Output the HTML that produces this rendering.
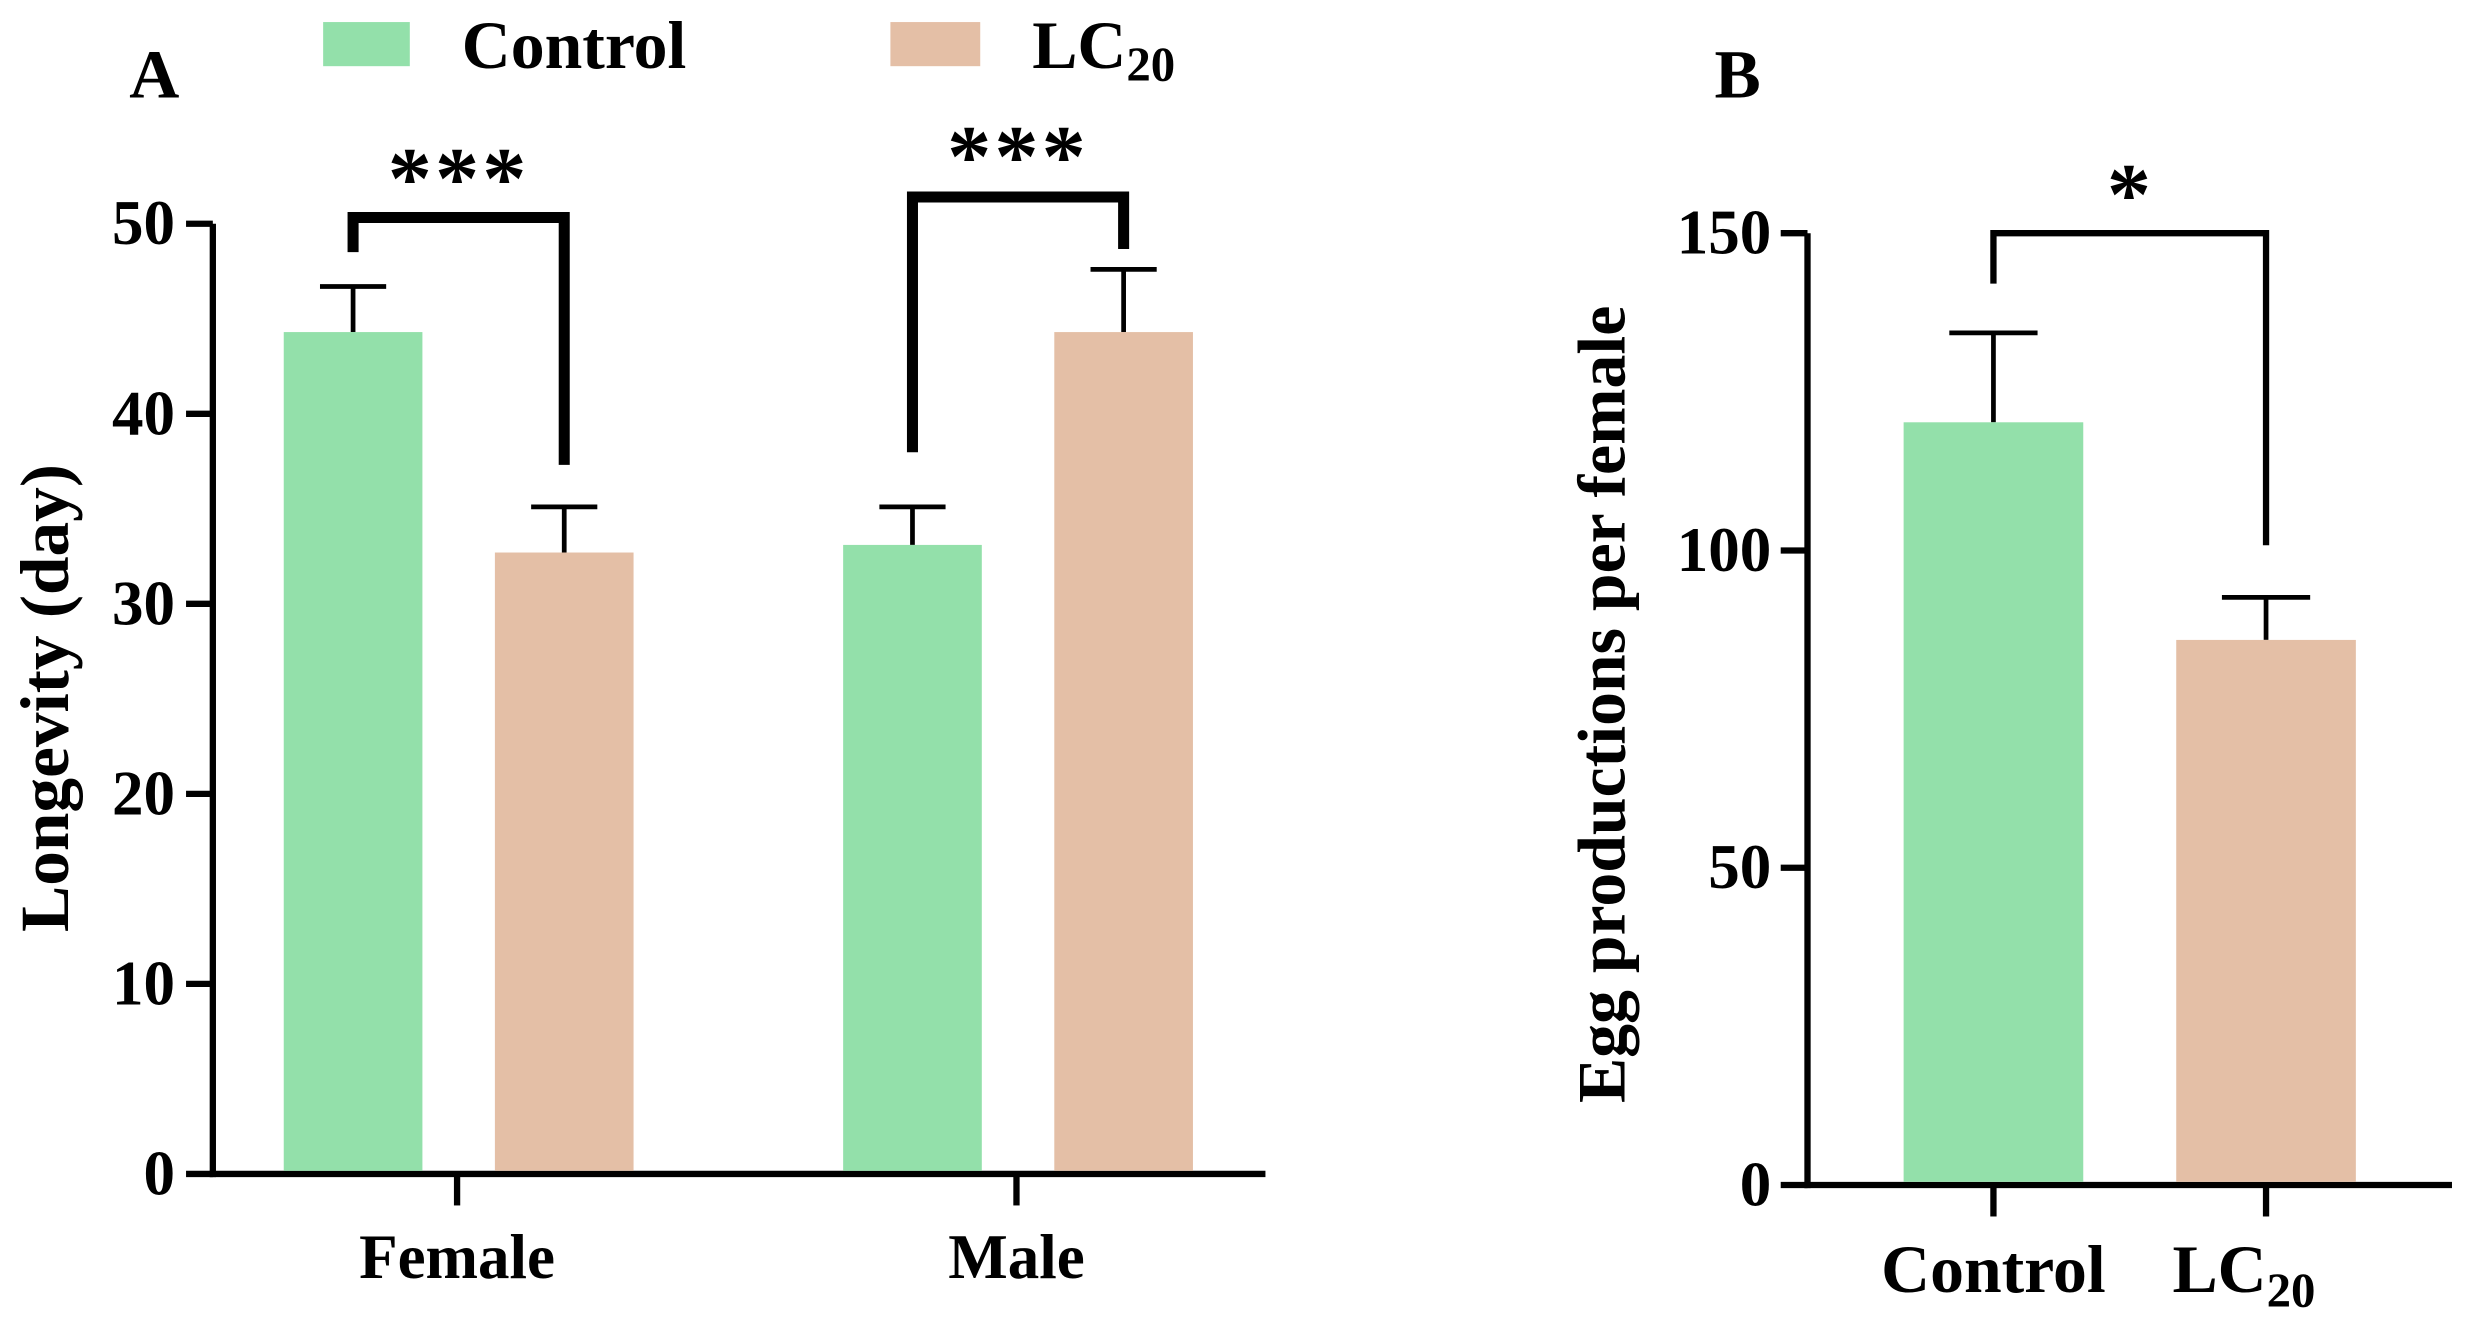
<!DOCTYPE html>
<html><head><meta charset="utf-8"><style>
html,body{margin:0;padding:0;background:#fff}
svg{display:block}
text{font-family:"Liberation Serif",serif;font-weight:bold;fill:#000}
</style></head><body>
<svg id="c" width="2471" height="1326" viewBox="0 0 1568 841.5" xmlns="http://www.w3.org/2000/svg"></svg>
<script>
const groupsA = ["Female","Male"];
const controlA = [44.3, 33.1];
const controlErrA = [2.4, 2.0];
const lc20A = [32.7, 44.3];
const lc20ErrA = [2.4, 3.3];
const ticksA = [0,10,20,30,40,50];
const groupsB = ["Control","LC20"];
const valuesB = [120.2, 85.9];
const errB = [14.1, 6.7];
const ticksB = [0,50,100,150];

const NS="http://www.w3.org/2000/svg";
const svg=document.getElementById('c');
function el(t,a,txt){const e=document.createElementNS(NS,t);for(const k in a)e.setAttribute(k,a[k]);if(txt!==undefined)e.textContent=txt;svg.appendChild(e);return e;}
const G="#93e0aa",T="#e4bfa6";

const yA=v=>745-v*(745-142)/50;
let e;
e=el('line',{x1:135,y1:142,x2:135,y2:747,stroke:'#000','stroke-width':4});


e=el('line',{x1:133,y1:745,x2:803,y2:745,stroke:'#000','stroke-width':4});


ticksA.forEach(t=>{
 e=el('line',{x1:118,y1:yA(t),x2:135,y2:yA(t),stroke:'#000','stroke-width':4});
 
 
 e=el('text',{x:111,y:yA(t)+13,'font-size':40,'text-anchor':'end'},t);
 
 
});
const centersA=[290,645];
groupsA.forEach((g,i)=>{
 const cx=centersA[i];
 e=el('line',{x1:cx,y1:745,x2:cx,y2:765,stroke:'#000','stroke-width':4});
 
 
 e=el('text',{x:cx,y:811,'font-size':40,'text-anchor':'middle'},g);
 
 
 [[controlA,controlErrA,G,cx-66],[lc20A,lc20ErrA,T,cx+68]].forEach(([vals,errs,col,bc],j)=>{
  const v=vals[i],top=yA(v),et=yA(v+errs[i]);
  e=el('line',{x1:bc,y1:top,x2:bc,y2:et,stroke:'#000','stroke-width':3});
  
  
  e=el('line',{x1:bc-21,y1:et,x2:bc+21,y2:et,stroke:'#000','stroke-width':3});
  
  
  e=el('rect',{x:bc-44,y:top,width:88,height:743-top,fill:col});
  
  
 });
});
function bracket(x1,y1,x2,y2,yt,w){
 e=el('polyline',{points:`${x1},${y1} ${x1},${yt} ${x2},${yt} ${x2},${y2}`,fill:'none',stroke:'#000','stroke-width':w});
 
 
}
bracket(224,160,358,295,138,7);
bracket(579,287,713,158,125,7);
e=el('text',{x:291,y:132,'font-size':56,'text-anchor':'middle','letter-spacing':2},'***');


e=el('text',{x:646,y:118,'font-size':56,'text-anchor':'middle','letter-spacing':2},'***');


e=el('text',{x:0,y:0,'font-size':44,'text-anchor':'middle',transform:'translate(43,443) rotate(-90)'},'Longevity (day)');


e=el('text',{x:82,y:62,'font-size':44},'A');



e=el('rect',{x:205,y:14,width:55,height:28,fill:G});


e=el('text',{x:293,y:43,'font-size':43},'Control');


e=el('rect',{x:565,y:14,width:57,height:28,fill:T});


e=el('text',{x:655,y:43,'font-size':43},'LC');


e.appendChild(Object.assign(document.createElementNS(NS,'tspan'),{textContent:'20'}));
e.lastChild.setAttribute('font-size',31);e.lastChild.setAttribute('dy',8);

const yB=v=>752-v*(752-148)/150;
e=el('line',{x1:1147,y1:148,x2:1147,y2:754,stroke:'#000','stroke-width':4});


e=el('line',{x1:1145,y1:752,x2:1556,y2:752,stroke:'#000','stroke-width':4});


ticksB.forEach(t=>{
 e=el('line',{x1:1130,y1:yB(t),x2:1147,y2:yB(t),stroke:'#000','stroke-width':4});
 
 
 e=el('text',{x:1124,y:yB(t)+13,'font-size':40,'text-anchor':'end'},t);
 
 
});
const centersB=[1265,1438];
groupsB.forEach((g,i)=>{
 const cx=centersB[i],v=valuesB[i],top=yB(v),et=yB(v+errB[i]);
 e=el('line',{x1:cx,y1:752,x2:cx,y2:772,stroke:'#000','stroke-width':4});
 
 
 e=el('line',{x1:cx,y1:top,x2:cx,y2:et,stroke:'#000','stroke-width':3});
 
 
 e=el('line',{x1:cx-28,y1:et,x2:cx+28,y2:et,stroke:'#000','stroke-width':3});
 
 
 e=el('rect',{x:cx-57,y:top,width:114,height:750-top,fill:i?T:G});
 
 
 e=el('text',{x:cx,y:820,'font-size':43,'text-anchor':'middle'},g==='LC20'?'LC':g);
 
 
 if(g==='LC20'){const ts=document.createElementNS(NS,'tspan');ts.textContent='20';ts.setAttribute('font-size',31);ts.setAttribute('dy',9);e.appendChild(ts);e.setAttribute('x',cx-14);}
});
bracket(1265,180,1438,346,148,4);
e=el('text',{x:1351,y:142,'font-size':56,'text-anchor':'middle'},'*');


e=el('text',{x:0,y:0,'font-size':43,'text-anchor':'middle',transform:'translate(1031,447) rotate(-90)'},'Egg productions per female');


e=el('text',{x:1088,y:62,'font-size':44},'B');


</script>
</body></html>
